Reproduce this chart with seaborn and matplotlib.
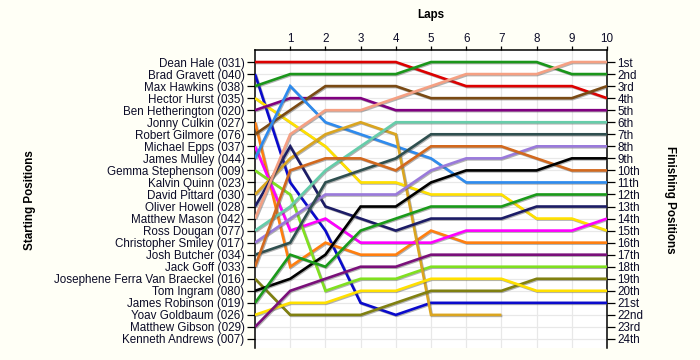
import matplotlib
matplotlib.use("Agg")
import matplotlib.pyplot as plt
import matplotlib.patheffects as pe
import pandas as pd
import seaborn as sns

# ---------------- data ----------------
laps = [0, 1, 2, 3, 4, 5, 6, 7, 8, 9, 10]
lap_ticks = [1, 2, 3, 4, 5, 6, 7, 8, 9, 10]

starting_names = [
    "Dean Hale (031)", "Brad Gravett (040)", "Max Hawkins (038)", "Hector Hurst (035)",
    "Ben Hetherington (020)", "Jonny Culkin (027)", "Robert Gilmore (076)", "Michael Epps (037)",
    "James Mulley (044)", "Gemma Stephenson (009)", "Kalvin Quinn (023)", "David Pittard (030)",
    "Oliver Howell (028)", "Matthew Mason (042)", "Ross Dougan (077)", "Christopher Smiley (017)",
    "Josh Butcher (034)", "Jack Goff (033)", "Josephene Ferra Van Braeckel (016)", "Tom Ingram (080)",
    "James Robinson (019)", "Yoav Goldbaum (026)", "Matthew Gibson (029)", "Kenneth Andrews (007)",
]
finishing_labels = [
    "1st", "2nd", "3rd", "4th", "5th", "6th", "7th", "8th", "9th", "10th", "11th", "12th",
    "13th", "14th", "15th", "16th", "17th", "18th", "19th", "20th", "21st", "22nd", "23rd", "24th",
]

dean_hale = [1, 1, 1, 1, 1, 2, 3, 3, 3, 3, 4]
brad_gravett = [2, 11, 15, 21, 22, 21, 21, 21, 21, 21, 21]
max_hawkins = [3, 2, 2, 2, 2, 1, 1, 1, 1, 2, 2]
hector_hurst = [4, 6, 8, 11, 11, 12, 12, 12, 14, 14, 15]
ben_hetherington = [5, 4, 4, 4, 5, 5, 5, 5, 5, 5, 5]
jonny_culkin = [6, 18, 16, 17, 17, 15, 16, 16, 16, 16, 16]
robert_gilmore = [7, 5, 3, 3, 3, 4, 4, 4, 4, 4, 3]
michael_epps = [8, 15, 14, 16, 16, 16, 15, 15, 15, 15, 14]
james_mulley = [9, 3, 6, 7, 8, 9, 11, 11, 11, 11, 11]
gemma_stephenson = [10, 12, 20, 19, 19, 18, 18, 18, 18, 18, 18]
kalvin_quinn = []
david_pittard = [12, 9, 7, 6, 7, 22, 22, 22]
oliver_howell = [13, 8, 13, 14, 15, 14, 14, 14, 13, 13, 13]
matthew_mason = [14, 7, 5, 5, 4, 3, 2, 2, 2, 1, 1]
ross_dougan = [15, 13, 10, 8, 6, 6, 6, 6, 6, 6, 6]
christopher_smiley = [16, 14, 12, 12, 12, 10, 9, 9, 8, 8, 8]
josh_butcher = [17, 16, 11, 10, 9, 7, 7, 7, 7, 7, 7]
jack_goff = [18, 10, 9, 9, 10, 8, 8, 8, 9, 10, 10]
josephene_ferra_van_braeckel = [19, 22, 22, 22, 21, 20, 20, 20, 19, 19, 19]
tom_ingram = [20, 19, 17, 13, 13, 11, 10, 10, 10, 9, 9]
james_robinson = [21, 17, 18, 15, 14, 13, 13, 13, 12, 12, 12]
yoav_goldbaum = [22, 21, 21, 20, 20, 19, 19, 19, 20, 20, 20]
matthew_gibson = [23, 20, 19, 18, 18, 17, 17, 17, 17, 17, 17]
kenneth_andrews = []

series = [
    dean_hale, brad_gravett, max_hawkins, hector_hurst, ben_hetherington, jonny_culkin,
    robert_gilmore, michael_epps, james_mulley, gemma_stephenson, kalvin_quinn, david_pittard,
    oliver_howell, matthew_mason, ross_dougan, christopher_smiley, josh_butcher, jack_goff,
    josephene_ferra_van_braeckel, tom_ingram, james_robinson, yoav_goldbaum, matthew_gibson,
    kenneth_andrews,
]

# ---------------- styling ----------------
colors = [
    "#DD0000", "#0A0ACC", "#1A961A", "#FFE000", "#800080", "#FF7F10",
    "#7A4A14", "#FF00FF", "#2E8BEE", "#80E020", "#999999", "#DAA520",
    "#1C1C66", "#F5A083", "#66CDAA", "#9A7ADB", "#2F4F4F", "#D2691E",
    "#808010", "#000000", "#1A9A1A", "#FFE000", "#7A107A", "#999999",
]

rows = []
for name, pos in zip(starting_names, series):
    for lap, p in zip(laps, pos):
        rows.append({"driver": name, "lap": lap, "position": p})
df = pd.DataFrame(rows)
palette = {n: c for n, c in zip(starting_names, colors)}

sns.set_theme(style="white")
plt.rcParams["font.family"] = ["Liberation Sans", "DejaVu Sans"]

bg = "#FFFFF6"
fs = 8.4
fig = plt.figure(figsize=(7, 3.6), dpi=100, facecolor=bg)
ax = fig.add_axes([255 / 700, 1 - 348 / 360, (607 - 255) / 700, (348 - 50) / 360])
ax.set_facecolor("white")

# grid
for x in lap_ticks:
    ax.axvline(x, color="#E8E8E8", lw=0.9, zorder=0)
for y in range(1, 25):
    ax.axhline(y, color="#E8E8E8", lw=0.9, zorder=0)
n_grid = len(ax.lines)

sns.lineplot(data=df, x="lap", y="position", hue="driver", palette=palette,
             estimator=None, sort=False, legend=False, linewidth=1.9, ax=ax, zorder=3)
for ln in ax.lines[n_grid:]:
    ln.set_path_effects([pe.SimpleLineShadow(offset=(0.7, -0.7), shadow_color="#555555", alpha=0.45),
                         pe.Normal()])
    ln.set_solid_joinstyle("miter")
    ln.set_solid_capstyle("butt")

ax.set_xlim(0, 10)
ax.set_ylim(24.75, 0)

txt_color = "#0C0C28"
ax.xaxis.tick_top()
ax.set_xticks(lap_ticks)
ax.set_xticklabels([str(v) for v in lap_ticks], fontsize=fs, color=txt_color)
ax.xaxis.set_label_position("top")
ax.set_xlabel("Laps", fontsize=fs, fontweight="bold", color="black", labelpad=11)

ax.set_yticks(range(1, 25))
ax.set_yticklabels(starting_names, fontsize=fs, color=txt_color)
ax.set_ylabel("")
ax.tick_params(axis="y", which="both", direction="out", length=6, width=0.9, color="black", pad=1.5)
ax.tick_params(axis="x", which="both", direction="out", length=3, width=0.9, color="black", pad=0.5)

for s in ["left", "right", "top"]:
    ax.spines[s].set_visible(True)
    ax.spines[s].set_color("black")
    ax.spines[s].set_linewidth(1.1)
ax.spines["bottom"].set_visible(False)

ax2 = ax.twinx()
ax2.set_ylim(24.75, 0)
ax2.set_yticks(range(1, 25))
ax2.set_yticklabels(finishing_labels, fontsize=fs, color=txt_color)
ax2.tick_params(axis="y", direction="out", length=6, width=0.9, color="black", pad=1.5)
ax2.grid(False)
for s in ["left", "right", "top", "bottom"]:
    ax2.spines[s].set_visible(False)

fig.text(30 / 700, 1 - 200 / 360, "Starting Positions", rotation=90, fontsize=fs,
         fontweight="bold", ha="center", va="center", color="black")
fig.text(670 / 700, 1 - 200 / 360, "Finishing Positions", rotation=270, fontsize=fs,
         fontweight="bold", ha="center", va="center", color="black")

fig.savefig("out.png", dpi=100, facecolor=bg)
